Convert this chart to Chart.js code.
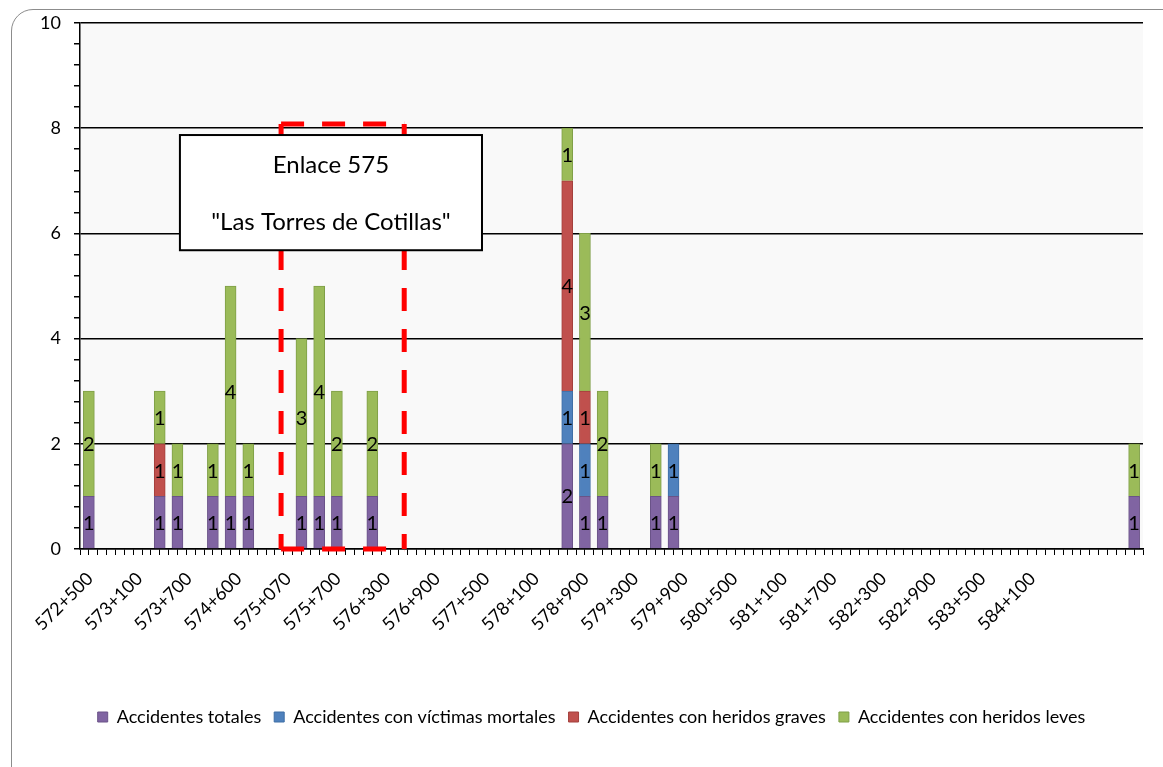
<!DOCTYPE html>
<html>
<head>
<meta charset="utf-8">
<script src="https://cdn.jsdelivr.net/npm/chart.js@4.4.1/dist/chart.umd.min.js"></script>
<style>
  html, body { margin: 0; padding: 0; background: #fff; overflow: hidden; }
  #wrap { position: relative; width: 1163px; height: 767px; }
  #frame { position: absolute; left: 11px; top: 9px; width: 1200px; height: 820px;
           border: 1.5px solid #8c8c8c; border-radius: 22px; box-sizing: border-box; }
  canvas { position: absolute; left: 0; top: 0; }
</style>
</head>
<body>
<div id="wrap">
  <div id="frame"></div>
  <canvas id="accChart" width="1163" height="767"></canvas>
</div>
<script>
// posicion de cada barra en el eje (60 huecos)
const slots    = [0, 4, 5, 7, 8, 9, 12, 13, 14, 16, 27, 28, 29, 32, 33, 59];
const totales  = [1, 1, 1, 1, 1, 1, 1, 1, 1, 1, 2, 1, 1, 1, 1, 1];
const mortales = [0, 0, 0, 0, 0, 0, 0, 0, 0, 0, 1, 1, 0, 0, 1, 0];
const graves   = [0, 1, 0, 0, 0, 0, 0, 0, 0, 0, 4, 1, 0, 0, 0, 0];
const leves    = [2, 1, 1, 1, 4, 1, 3, 4, 2, 2, 1, 3, 2, 1, 0, 1];

const pkLabels = ['572+500', '573+100', '573+700', '574+600', '575+070', '575+700', '576+300',
  '576+900', '577+500', '578+100', '578+900', '579+300', '579+900', '580+500', '581+100',
  '581+700', '582+300', '582+900', '583+500', '584+100'];

const FONT = 'Lato';

// zona del enlace y cuadro de texto (en unidades de los ejes)
const enlaceZone = { x0: 11.35, x1: 18.3, y0: 0, y1: 8.08 };
const enlaceBox = { x0: 5.64, x1: 22.69, y0: 5.68, y1: 7.87 };

const toPoints = arr => slots.map((s, i) => ({ x: s + 0.5, y: arr[i] || null }));

const plotBg = {
    id: 'plotBg',
    beforeDraw(chart) {
        const { ctx, chartArea: a } = chart;
        ctx.save();
        ctx.fillStyle = '#f9f9f9';
        ctx.fillRect(a.left, a.top, a.right - a.left, a.bottom - a.top);
        ctx.restore();
    }
};

const segmentLabels = {
    id: 'segmentLabels',
    afterDatasetsDraw(chart) {
        const ctx = chart.ctx;
        ctx.save();
        ctx.font = '20px ' + FONT;
        ctx.fillStyle = '#000';
        ctx.textAlign = 'center';
        ctx.textBaseline = 'middle';
        chart.data.datasets.forEach((ds, di) => {
            chart.getDatasetMeta(di).data.forEach((bar, i) => {
                const v = ds.data[i].y;
                if (!v) return;
                ctx.fillText(String(v), bar.x, (bar.y + bar.base) / 2 + 1);
            });
        });
        ctx.restore();
    }
};

const enlace = {
    id: 'enlace',
    afterDraw(chart) {
        const { ctx, scales } = chart;
        const xs = scales.x, ys = scales.y;
        ctx.save();
        // rectangulo rojo discontinuo
        const l = xs.getPixelForValue(enlaceZone.x0), r = xs.getPixelForValue(enlaceZone.x1);
        const t = ys.getPixelForValue(enlaceZone.y1), b = ys.getPixelForValue(enlaceZone.y0);
        ctx.strokeStyle = '#ff0000';
        ctx.lineWidth = 5;
        ctx.setLineDash([23, 18]);
        [[l, t, r, t], [l, t, l, b], [r, t, r, b], [l, b, r, b]].forEach(([x1, y1, x2, y2]) => {
            ctx.beginPath();
            ctx.moveTo(x1, y1);
            ctx.lineTo(x2, y2);
            ctx.stroke();
        });
        ctx.setLineDash([]);
        // cuadro de texto
        const bl = xs.getPixelForValue(enlaceBox.x0), br = xs.getPixelForValue(enlaceBox.x1);
        const bt = ys.getPixelForValue(enlaceBox.y1), bb = ys.getPixelForValue(enlaceBox.y0);
        ctx.fillStyle = '#fff';
        ctx.fillRect(bl, bt, br - bl, bb - bt);
        ctx.strokeStyle = '#000';
        ctx.lineWidth = 2;
        ctx.strokeRect(bl, bt, br - bl, bb - bt);
        ctx.fillStyle = '#000';
        ctx.font = '24px ' + FONT;
        ctx.textAlign = 'center';
        ctx.textBaseline = 'middle';
        const cx = (bl + br) / 2;
        ctx.fillText('Enlace 575', cx, bt + 30);
        ctx.fillText('"Las Torres de Cotillas"', cx, bt + 87);
        ctx.restore();
    }
};

const isMajor = v => Math.abs(v / 2 - Math.round(v / 2)) < 1e-6;

const ctx = document.getElementById('accChart').getContext('2d');
const accChart = new Chart(ctx, {
    type: 'bar',
    data: {
        datasets: [
            { label: 'Accidentes totales', data: toPoints(totales),
              backgroundColor: '#8064A2', borderColor: '#6a5388' },
            { label: 'Accidentes con víctimas mortales', data: toPoints(mortales),
              backgroundColor: '#4F81BD', borderColor: '#3f6ea5' },
            { label: 'Accidentes con heridos graves', data: toPoints(graves),
              backgroundColor: '#C0504D', borderColor: '#a33f3c' },
            { label: 'Accidentes con heridos leves', data: toPoints(leves),
              backgroundColor: '#9BBB59', borderColor: '#7f9f47' }
        ]
    },
    options: {
        responsive: false,
        animation: false,
        devicePixelRatio: 1,
        layout: { padding: { left: 40, right: 20, top: 23, bottom: 31 } },
        datasets: { bar: { barThickness: 11, borderWidth: 1 } },
        plugins: {
            tooltip: { enabled: false },
            legend: {
                position: 'bottom',
                labels: {
                    boxWidth: 10, boxHeight: 10, padding: 13,
                    color: '#000', font: { family: FONT, size: 18 }
                }
            }
        },
        scales: {
            x: {
                type: 'linear', min: 0, max: 60, stacked: true, offset: false, position: 'bottom',
                grid: { offset: false, drawOnChartArea: false, drawTicks: true, tickLength: 6,
                        color: '#000', tickColor: '#000' },
                border: { display: true, color: '#000', width: 1.5 },
                ticks: { display: false, autoSkip: false },
                afterBuildTicks: s => {
                    const t = [];
                    for (let v = 0; v <= 60; v += 0.5) t.push({ value: v });
                    s.ticks = t;
                }
            },
            xl: {
                type: 'linear', min: 0, max: 60, offset: false, position: 'bottom',
                grid: { offset: false, display: false, drawTicks: false },
                border: { display: false },
                ticks: {
                    autoSkip: false, maxRotation: 45, minRotation: 45, padding: 13,
                    color: '#000', font: { family: FONT, size: 18 },
                    callback: (v, i) => pkLabels[i]
                },
                afterBuildTicks: s => { s.ticks = pkLabels.map((l, i) => ({ value: 0.56 + i * 2.8 })); },
                afterFit: s => { s.height = 140; s.paddingLeft = 0; s.paddingRight = 0; }
            },
            y: {
                min: 0, max: 10, stacked: true,
                grid: {
                    color: c => isMajor(c.tick.value) ? '#000' : 'rgba(0,0,0,0)',
                    lineWidth: 1.5, tickLength: 6, tickColor: '#000'
                },
                border: { display: true, color: '#000', width: 1.5 },
                ticks: {
                    autoSkip: false, padding: 13, color: '#000', font: { family: FONT, size: 18 },
                    callback: v => isMajor(v) ? String(Math.round(v)) : ''
                },
                afterBuildTicks: s => {
                    const t = [];
                    for (let k = 0; k <= 25; k++) t.push({ value: k * 0.4 });
                    s.ticks = t;
                },
                afterFit: s => { s.width = 40; s.paddingTop = 0; s.paddingBottom = 0; }
            }
        }
    },
    plugins: [plotBg, segmentLabels, enlace]
});
</script>
</body>
</html>
